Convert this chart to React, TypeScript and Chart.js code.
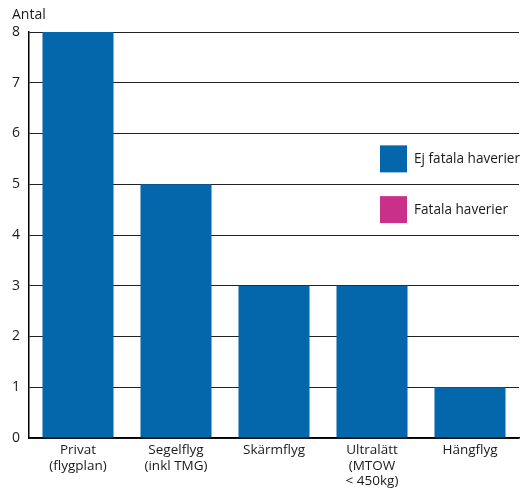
import React, { useEffect, useRef } from "react";
import { Chart, registerables } from "chart.js";

Chart.register(...registerables);

const categories: (string | string[])[] = [
  ["Privat", "(flygplan)"],
  ["Segelflyg", "(inkl TMG)"],
  "Skärmflyg",
  ["Ultralätt", "(MTOW", "< 450kg)"],
  "Hängflyg",
];
const ejFatala = [8, 5, 3, 3, 1];
const fatala = [0, 0, 0, 0, 0];
const seriesNames = ["Ej fatala haverier", "Fatala haverier"];
const seriesColors = ["#0467ac", "#c8308a"];
const yTicks = [0, 1, 2, 3, 4, 5, 6, 7, 8];
const yTitle = "Antal";

const FONT = "'Open Sans', 'Noto Sans', sans-serif";

const overlay = {
  id: "overlay",
  afterDraw(chart: any) {
    const ctx = chart.ctx as CanvasRenderingContext2D;
    ctx.save();
    ctx.fillStyle = "#1a1a1a";
    ctx.font = `14px ${FONT}`;
    ctx.textAlign = "left";
    ctx.textBaseline = "middle";
    ctx.fillText(yTitle, 12, 15);

    // legend inside the plot area, between the grid lines
    const y = chart.scales.y;
    const sw = 27;
    const x0 = 380;
    const rows = [5.5, 4.5];
    rows.forEach((v, i) => {
      const cy = y.getPixelForValue(v);
      ctx.fillStyle = seriesColors[i];
      ctx.fillRect(x0, cy - sw / 2, sw, sw);
      ctx.fillStyle = "#1a1a1a";
      ctx.font = `13.6px ${FONT}`;
      ctx.fillText(seriesNames[i], x0 + sw + 7, cy);
    });
    ctx.restore();
  },
};

export default function App() {
  const ref = useRef<HTMLCanvasElement | null>(null);
  useEffect(() => {
    if (!ref.current) return;
    const chart = new Chart(ref.current, {
      type: "bar",
      data: {
        labels: categories as any,
        datasets: [
          {
            label: seriesNames[0],
            data: ejFatala,
            backgroundColor: seriesColors[0],
            barPercentage: 0.725,
            categoryPercentage: 1,
          },
          {
            label: seriesNames[1],
            data: fatala,
            backgroundColor: seriesColors[1],
            barPercentage: 0.725,
            categoryPercentage: 1,
          },
        ],
      },
      plugins: [overlay],
      options: {
        responsive: false,
        animation: false,
        devicePixelRatio: 1,
        layout: { padding: { left: 0, top: 32, right: 2, bottom: 0 } },
        plugins: { legend: { display: false }, tooltip: { enabled: false } },
        scales: {
          x: {
            stacked: true,
            grid: { display: false, drawTicks: false },
            border: { display: true, color: "#000", width: 1.5 },
            ticks: {
              color: "#1a1a1a",
              font: { family: FONT, size: 13.5, lineHeight: 1.12 },
              padding: 5,
              maxRotation: 0,
              autoSkip: false,
            },
            afterFit(scale: any) {
              scale.height = 55;
            },
          },
          y: {
            stacked: true,
            min: 0,
            max: 8,
            afterBuildTicks(scale: any) {
              scale.ticks = yTicks.map((v) => ({ value: v }));
            },
            grid: { color: "#222", lineWidth: 1, drawTicks: false },
            border: { display: true, color: "#000", width: 1.5 },
            ticks: {
              color: "#1a1a1a",
              font: { family: FONT, size: 14 },
              padding: 9,
            },
            afterFit(scale: any) {
              scale.width = 29;
            },
          },
        },
      },
    });
    return () => chart.destroy();
  }, []);
  return (
    <div style={{ position: "fixed", left: 0, top: 0, width: 521, height: 493, background: "#fff" }}>
      <canvas ref={ref} width={521} height={493} />
    </div>
  );
}
